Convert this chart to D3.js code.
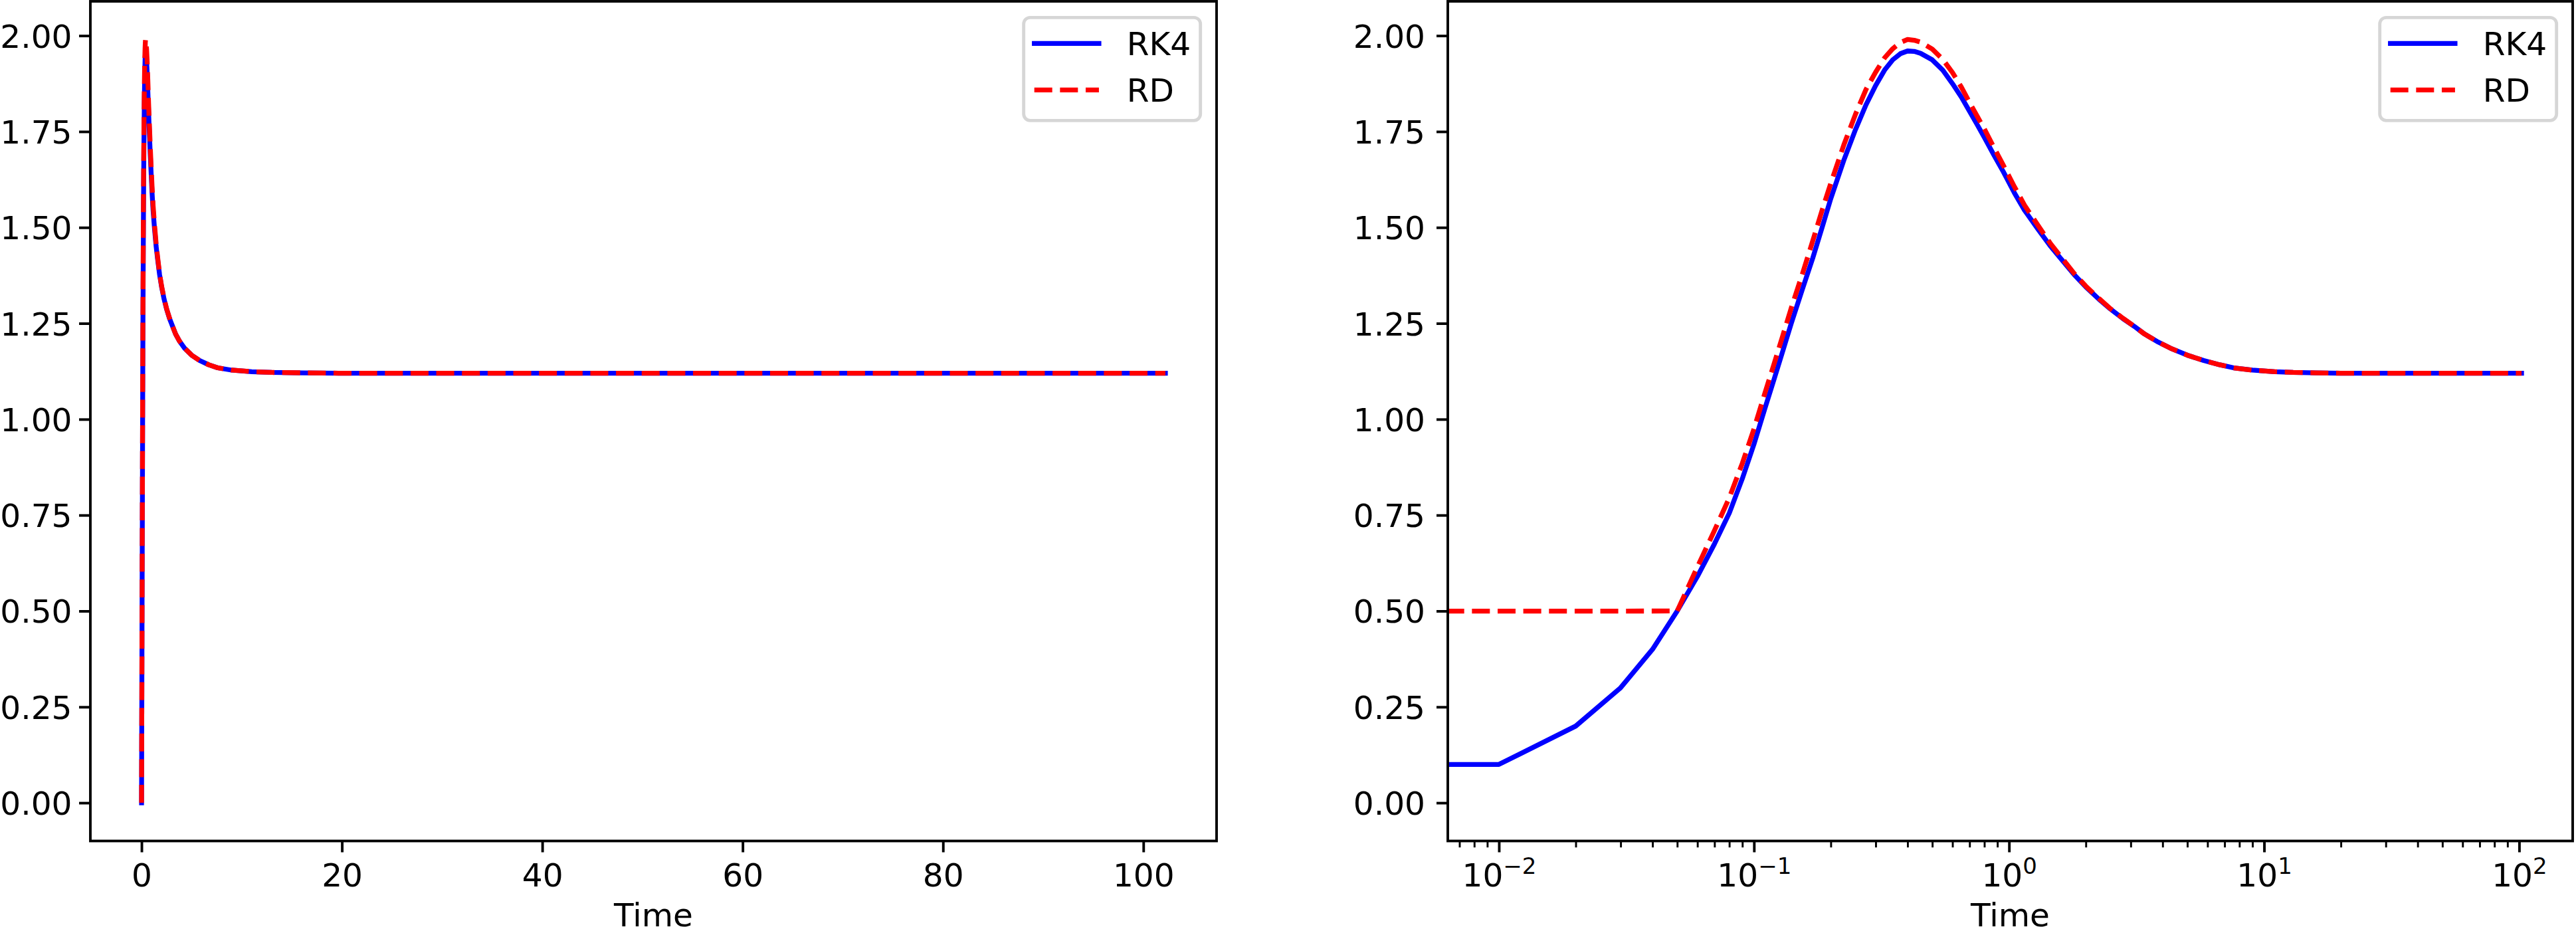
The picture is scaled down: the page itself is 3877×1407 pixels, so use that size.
<!DOCTYPE html>
<html><head><meta charset="utf-8">
<script src="https://cdn.jsdelivr.net/npm/d3@7"></script>
<style>
body{margin:0;background:#fff}
svg{display:block}
text{font-family:"DejaVu Sans",sans-serif;fill:#000}
</style>
</head><body>
<svg id="chart" width="3877" height="1407"></svg>
<script>
// ---------------- data ----------------
const seriesNames = ["RK4", "RD"];
const rk4Time  = [0, 0.01, 0.02, 0.03, 0.04, 0.05, 0.06, 0.07, 0.08, 0.09, 0.1, 0.11, 0.12, 0.13, 0.14, 0.155, 0.17, 0.185, 0.2, 0.225, 0.25, 0.275, 0.3, 0.325, 0.35, 0.375, 0.4, 0.425, 0.45, 0.5, 0.55, 0.6, 0.65, 0.7, 0.75, 0.8, 0.87, 0.95, 1.05, 1.15, 1.3, 1.45, 1.6, 1.8, 2.0, 2.25, 2.5, 2.8, 3.1, 3.4, 3.8, 4.3, 5.0, 5.8, 6.7, 7.6, 9, 11, 13, 16, 20, 30, 50, 102.2];
const rk4Value = [0, 0.10, 0.20, 0.30, 0.40, 0.50, 0.59, 0.675, 0.755, 0.845, 0.935, 1.025, 1.105, 1.18, 1.25, 1.34, 1.42, 1.50, 1.575, 1.675, 1.755, 1.82, 1.87, 1.91, 1.937, 1.953, 1.96, 1.959, 1.954, 1.937, 1.91, 1.875, 1.84, 1.803, 1.768, 1.735, 1.69, 1.645, 1.59, 1.545, 1.495, 1.452, 1.418, 1.377, 1.345, 1.313, 1.287, 1.262, 1.242, 1.222, 1.203, 1.185, 1.167, 1.153, 1.142, 1.134, 1.128, 1.124, 1.122, 1.121, 1.12, 1.12, 1.12, 1.12];
const rdTime   = [0, 0.05, 0.06, 0.07, 0.08, 0.09, 0.1, 0.11, 0.12, 0.13, 0.14, 0.155, 0.17, 0.185, 0.2, 0.225, 0.25, 0.275, 0.3, 0.325, 0.35, 0.375, 0.4, 0.425, 0.45, 0.5, 0.55, 0.6, 0.65, 0.7, 0.75, 0.8, 0.87, 0.95, 1.05, 1.15, 1.3, 1.45, 1.6, 1.8, 2.0, 2.25, 2.5, 2.8, 3.1, 3.4, 3.8, 4.3, 5.0, 5.8, 6.7, 7.6, 9, 11, 13, 16, 20, 30, 50, 102.2];
const rdValue  = [0, 0.50, 0.615, 0.71, 0.795, 0.885, 0.975, 1.065, 1.145, 1.22, 1.29, 1.38, 1.465, 1.545, 1.615, 1.715, 1.795, 1.86, 1.905, 1.942, 1.966, 1.982, 1.99, 1.988, 1.983, 1.965, 1.938, 1.904, 1.866, 1.826, 1.79, 1.757, 1.71, 1.662, 1.606, 1.558, 1.505, 1.459, 1.423, 1.38, 1.347, 1.315, 1.288, 1.263, 1.242, 1.222, 1.203, 1.185, 1.167, 1.153, 1.142, 1.134, 1.128, 1.124, 1.122, 1.121, 1.12, 1.12, 1.12, 1.12];
const yTicks = [0, 0.25, 0.5, 0.75, 1.0, 1.25, 1.5, 1.75, 2.0];
const yTickLabels = ["0.00", "0.25", "0.50", "0.75", "1.00", "1.25", "1.50", "1.75", "2.00"];
const xTicksLinear = [0, 20, 40, 60, 80, 100];
const xTicksLog = [0.01, 0.1, 1, 10, 100];
const xTickLogExponents = ["\u22122", "\u22121", "0", "1", "2"];
const xLabel = "Time";

// ---------------- layout ----------------
const PT = 350 / 72;              // px per point
const FS = 10 * PT;               // font size
const svg = d3.select("#chart");
const axTop = 2, axBottom = 1265.5;
const panels = [
  {x0: 136, x1: 1831, log: false, yPad: 3.5 * PT - 6.5},
  {x0: 2179, x1: 3872, log: true, yPad: 3.5 * PT}
];
const colors = ["#0000ff", "#ff0000"];
const lw = 1.5 * PT;

const allV = rk4Value.concat(rdValue);
const yMin = d3.min(allV), yMax = d3.max(allV);
const yMargin = 0.05 * (yMax - yMin);
const y = d3.scaleLinear().domain([yMin - yMargin, yMax + yMargin]).range([axBottom, axTop]);

const allT = rk4Time.concat(rdTime);
const tMax = d3.max(allT), tMin = d3.min(allT);
const tMinPos = d3.min(allT.filter(t => t > 0));

panels.forEach((p, i) => {
  const g = svg.append("g");
  let x, xs;
  if (!p.log) {
    const pad = 0.05 * (tMax - tMin);
    x = d3.scaleLinear().domain([tMin - pad, tMax + pad]).range([p.x0, p.x1]);
    xs = t => x(t);
  } else {
    const lo = Math.log10(tMinPos), hi = Math.log10(tMax);
    const pad = 0.05 * (hi - lo);
    x = d3.scaleLog().domain([Math.pow(10, lo - pad), Math.pow(10, hi + pad)]).range([p.x0, p.x1]);
    // non-positive values are clipped far to the left (log space -1000), as in matplotlib
    const lx = d3.scaleLinear().domain(x.domain().map(Math.log10)).range(x.range());
    xs = t => t > 0 ? x(t) : lx(-1000);
  }

  // clip
  const cid = "clip" + i;
  svg.append("defs").append("clipPath").attr("id", cid)
    .append("rect").attr("x", p.x0).attr("y", axTop).attr("width", p.x1 - p.x0).attr("height", axBottom - axTop);

  // lines
  const series = [[rk4Time, rk4Value], [rdTime, rdValue]];
  const line = d3.line().x(d => xs(d[0])).y(d => y(d[1]));
  const lg = g.append("g").attr("clip-path", `url(#${cid})`);
  series.forEach((s, k) => {
    const pts = s[0].map((t, j) => [t, s[1][j]]);
    lg.append("path").datum(pts).attr("d", line)
      .attr("fill", "none").attr("stroke", colors[k]).attr("stroke-width", lw)
      .attr("stroke-linejoin", "round")
      .attr("stroke-linecap", k === 0 ? "square" : "butt")
      .attr("stroke-dasharray", k === 1 ? `${3.7 * lw} ${1.6 * lw}` : null);
  });

  // y axis
  const yAxis = d3.axisLeft(y).tickValues(yTicks).tickFormat((d, j) => yTickLabels[j])
    .tickSize(3.5 * PT).tickPadding(p.yPad);
  const ya = g.append("g").attr("transform", `translate(${p.x0},0)`).call(yAxis);
  ya.select(".domain").remove();
  ya.selectAll("line").attr("stroke", "#000").attr("stroke-width", 0.8 * PT);
  ya.selectAll("text").attr("font-size", FS).attr("font-family", "DejaVu Sans").attr("dy", "0.36em");

  // x axis
  const xg = g.append("g").attr("transform", `translate(0,${axBottom})`);
  if (!p.log) {
    const xAxis = d3.axisBottom(x).tickValues(xTicksLinear).tickFormat(d3.format("d"))
      .tickSize(3.5 * PT).tickPadding(3.5 * PT);
    xg.call(xAxis);
  } else {
    const dom = x.domain();
    const minor = [];
    for (let e = -4; e <= 3; e++) for (let m = 2; m <= 9; m++) {
      const v = m * Math.pow(10, e);
      if (v >= dom[0] && v <= dom[1]) minor.push(v);
    }
    const mg = g.append("g").attr("transform", `translate(0,${axBottom})`)
      .call(d3.axisBottom(x).tickValues(minor).tickFormat("").tickSize(2 * PT));
    mg.select(".domain").remove();
    mg.selectAll("line").attr("stroke", "#000").attr("stroke-width", 0.6 * PT);
    const xAxis = d3.axisBottom(x).tickValues(xTicksLog).tickFormat("")
      .tickSize(3.5 * PT).tickPadding(3.5 * PT);
    xg.call(xAxis);
    xg.selectAll(".tick text").each(function(d, j) {
      const t = d3.select(this);
      t.append("tspan").text("10");
      t.append("tspan").text(xTickLogExponents[j]).attr("font-size", FS * 0.7).attr("dy", -0.39 * FS);
    });
  }
  xg.select(".domain").remove();
  xg.selectAll("line").attr("stroke", "#000").attr("stroke-width", 0.8 * PT);
  xg.selectAll("text").attr("font-size", FS).attr("font-family", "DejaVu Sans");

  // x label
  g.append("text").attr("x", (p.x0 + p.x1) / 2).attr("y", 1394)
    .attr("text-anchor", "middle").attr("font-size", FS).text(xLabel);

  // spines
  g.append("rect").attr("x", p.x0).attr("y", axTop).attr("width", p.x1 - p.x0).attr("height", axBottom - axTop)
    .attr("fill", "none").attr("stroke", "#000").attr("stroke-width", 0.8 * PT).attr("stroke-linejoin", "miter");

  // legend
  const bw = 266, bh = 155;
  const bx = p.x1 - 0.5 * FS - bw, by = axTop + 0.5 * FS;
  const leg = g.append("g");
  leg.append("rect").attr("x", bx).attr("y", by).attr("width", bw).attr("height", bh)
    .attr("rx", 0.2 * FS).attr("ry", 0.2 * FS)
    .attr("fill", "#fff").attr("fill-opacity", 0.8)
    .attr("stroke", "#cccccc").attr("stroke-opacity", 0.8).attr("stroke-width", 1.0 * PT);
  seriesNames.forEach((name, k) => {
    const cy = by + 39 + k * 70;
    leg.append("line").attr("x1", bx + 16).attr("x2", bx + 16 + 2 * FS)
      .attr("y1", cy).attr("y2", cy)
      .attr("stroke", colors[k]).attr("stroke-width", lw)
      .attr("stroke-linecap", k === 0 ? "square" : "butt")
      .attr("stroke-dasharray", k === 1 ? `${3.7 * lw} ${1.6 * lw}` : null);
    leg.append("text").attr("x", bx + 155).attr("y", cy + 17.6)
      .attr("font-size", FS).text(name);
  });
});
</script>
</body></html>
